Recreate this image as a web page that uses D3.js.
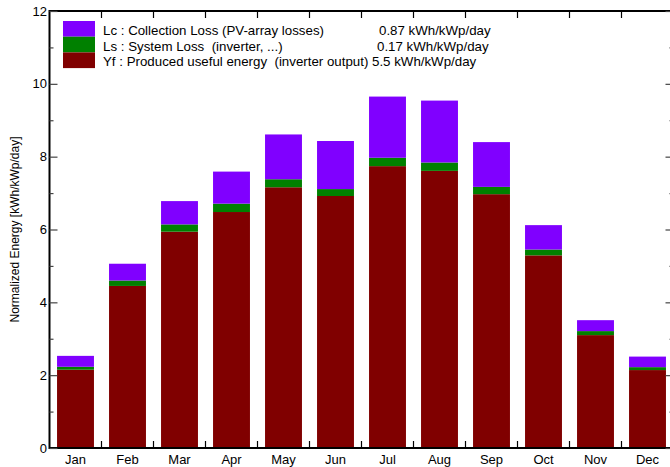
<!DOCTYPE html>
<html>
<head>
<meta charset="utf-8">
<script src="https://cdn.jsdelivr.net/npm/d3@7"></script>
<style>
  body { margin: 0; background: #fff; }
  text { font-family: "Liberation Sans", Arial, sans-serif; }
</style>
</head>
<body>
<div id="chart"></div>
<script>
// monthly normalized energy, kWh/kWp/day
const months = ["Jan", "Feb", "Mar", "Apr", "May", "Jun", "Jul", "Aug", "Sep", "Oct", "Nov", "Dec"];
const yf = [2.15, 4.45, 5.94, 6.48, 7.16, 6.92, 7.74, 7.61, 6.97, 5.29, 3.10, 2.14];
const ls = [0.08, 0.15, 0.20, 0.23, 0.22, 0.19, 0.23, 0.23, 0.20, 0.16, 0.11, 0.08];
const lc = [0.30, 0.46, 0.64, 0.88, 1.23, 1.32, 1.68, 1.70, 1.23, 0.67, 0.30, 0.29];
const yTicks = [0, 2, 4, 6, 8, 10, 12];

const legendItems = [
  { label: "Lc : Collection Loss (PV-array losses)", value: "0.87 kWh/kWp/day", color: "#8000ff", vx: 379 },
  { label: "Ls : System Loss  (inverter, ...)", value: "0.17 kWh/kWp/day", color: "#008000", vx: 377 },
  { label: "Yf : Produced useful energy  (inverter output)", value: "5.5 kWh/kWp/day", color: "#800000", vx: 372 }
];

const width = 670, height = 467;
const mLeft = 49.5, mRight = 673.5, mTop = 11, mBottom = 448;

const svg = d3.select("#chart").append("svg")
  .attr("width", width)
  .attr("height", height);

const x = d3.scaleBand().domain(months).range([mLeft, mRight]).paddingInner(0.29).paddingOuter(0.145);
const y = d3.scaleLinear().domain([0, 12]).range([mBottom, mTop]);

// stacked bars
const rows = months.map((m, i) => ({ month: m, yf: yf[i], ls: ls[i], lc: lc[i] }));
const stack = d3.stack().keys(["yf", "ls", "lc"])(rows);
const colors = { yf: "#800000", ls: "#008000", lc: "#8000ff" };

svg.append("g").selectAll("g")
  .data(stack)
  .join("g")
  .attr("fill", d => colors[d.key])
  .selectAll("rect")
  .data(d => d)
  .join("rect")
  .attr("x", d => x(d.data.month))
  .attr("width", x.bandwidth())
  .attr("y", d => y(d[1]))
  .attr("height", d => y(d[0]) - y(d[1]));

// frame
const step = x.step();
const bounds = months.map((m, i) => mLeft + step * (i + 1));

svg.append("line").attr("x1", mLeft).attr("x2", mRight).attr("y1", mTop).attr("y2", mTop)
  .attr("stroke", "#000").attr("stroke-width", 2);
svg.append("line").attr("x1", mLeft).attr("x2", mRight).attr("y1", mBottom).attr("y2", mBottom)
  .attr("stroke", "#000").attr("stroke-width", 2);
svg.append("line").attr("x1", mLeft).attr("x2", mLeft).attr("y1", mTop - 1).attr("y2", mBottom + 1)
  .attr("stroke", "#000").attr("stroke-width", 2);

// x ticks at band boundaries, top and bottom
svg.append("g").selectAll("line")
  .data(bounds)
  .join("line")
  .attr("x1", d => d).attr("x2", d => d)
  .attr("y1", mBottom).attr("y2", mBottom - 7)
  .attr("stroke", "#000").attr("stroke-width", 1.2);
svg.append("g").selectAll("line")
  .data(bounds)
  .join("line")
  .attr("x1", d => d).attr("x2", d => d)
  .attr("y1", mTop).attr("y2", mTop + 7)
  .attr("stroke", "#000").attr("stroke-width", 1.2);

// month labels
svg.append("g").selectAll("text")
  .data(months)
  .join("text")
  .attr("x", d => x(d) + x.bandwidth() / 2)
  .attr("y", 464)
  .attr("text-anchor", "middle")
  .attr("font-size", "13px")
  .text(d => d);

// y axis, ticks inward, minor ticks between
svg.append("g").attr("transform", "translate(" + mLeft + ",0)")
  .call(d3.axisRight(y).tickValues(yTicks).tickSize(8).tickFormat(""))
  .call(g => g.select(".domain").remove());
svg.append("g").attr("transform", "translate(" + mLeft + ",0)")
  .call(d3.axisRight(y).tickValues(d3.range(1, 12, 2)).tickSize(4).tickFormat(""))
  .call(g => g.select(".domain").remove());
// right axis (just outside the window), ticks inward
svg.append("g").attr("transform", "translate(" + mRight + ",0)")
  .call(d3.axisLeft(y).tickValues(yTicks).tickSize(8).tickFormat(""))
  .call(g => g.select(".domain").remove());
svg.append("g").attr("transform", "translate(" + mRight + ",0)")
  .call(d3.axisLeft(y).tickValues(d3.range(1, 12, 2)).tickSize(4).tickFormat(""))
  .call(g => g.select(".domain").remove());
svg.selectAll(".tick line").attr("stroke", "#444").attr("stroke-width", 1.2);

// y tick labels
svg.append("g").selectAll("text")
  .data(yTicks)
  .join("text")
  .attr("x", mLeft - 2.5)
  .attr("y", d => y(d) + 4.5)
  .attr("text-anchor", "end")
  .attr("font-size", "13px")
  .text(d => d);

svg.append("text")
  .attr("transform", "translate(19," + ((mTop + mBottom) / 2) + ") rotate(-90)")
  .attr("text-anchor", "middle")
  .attr("font-size", "12px")
  .text("Normalized Energy [kWh/kWp/day]");

// legend
const lg = svg.append("g");
legendItems.forEach((d, i) => {
  lg.append("rect")
    .attr("x", 63).attr("y", 21 + i * 15.7)
    .attr("width", 32).attr("height", 15.7)
    .attr("fill", d.color);
  lg.append("text")
    .attr("x", 103).attr("y", 35 + i * 15.7)
    .attr("font-size", "13.3px")
    .style("white-space", "pre")
    .text(d.label);
  lg.append("text")
    .attr("x", d.vx).attr("y", 35 + i * 15.7)
    .attr("font-size", "13.3px")
    .text(d.value);
});
</script>
</body>
</html>
